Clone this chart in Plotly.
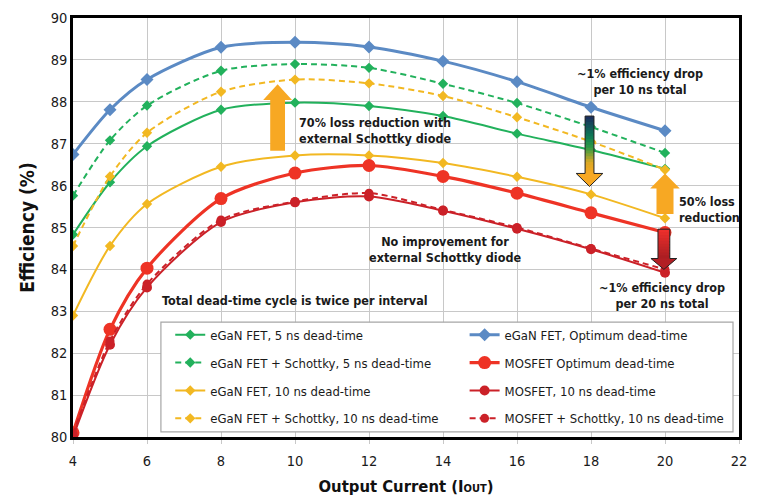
import plotly.graph_objects as go

# ---------------- data ----------------
x_current = [4, 5, 6, 8, 10, 12, 14, 16, 18, 20]
egan_5ns = [84.83, 86.08, 86.94, 87.81, 87.98, 87.90, 87.66, 87.24, 86.85, 86.40]
egan_schottky_5ns = [85.76, 87.08, 87.91, 88.74, 88.90, 88.81, 88.43, 87.97, 87.40, 86.78]
egan_10ns = [82.90, 84.56, 85.56, 86.45, 86.72, 86.72, 86.54, 86.21, 85.79, 85.22]
egan_schottky_10ns = [84.56, 86.22, 87.26, 88.24, 88.53, 88.44, 88.14, 87.63, 87.05, 86.38]
egan_opt = [86.74, 87.81, 88.53, 89.30, 89.42, 89.31, 88.97, 88.48, 87.87, 87.31]
mosfet_opt = [80.10, 82.57, 84.03, 85.69, 86.30, 86.48, 86.22, 85.82, 85.35, 84.88]
mosfet_10ns = [80.00, 82.20, 83.57, 85.13, 85.60, 85.74, 85.40, 84.97, 84.48, 83.92]
mosfet_schottky_10ns = [80.08, 82.29, 83.65, 85.18, 85.62, 85.82, 85.42, 85.00, 84.50, 84.00]

series_names = [
    "eGaN FET, 5 ns dead-time",
    "eGaN FET + Schottky, 5 ns dead-time",
    "eGaN FET, 10 ns dead-time",
    "eGaN FET + Schottky, 10 ns dead-time",
    "eGaN FET, Optimum dead-time",
    "MOSFET Optimum dead-time",
    "MOSFET, 10 ns dead-time",
    "MOSFET + Schottky, 10 ns dead-time",
]
x_ticks = [4, 6, 8, 10, 12, 14, 16, 18, 20, 22]
y_ticks = [80, 81, 82, 83, 84, 85, 86, 87, 88, 89, 90]

FONT = "DejaVu Sans Condensed, Liberation Sans Narrow, Roboto, sans-serif"
GREEN = "#22B15C"
YELLOW = "#F2B822"
BLUE = "#5B8AC4"
RED = "#EE3325"
DRED = "#CB2128"
ORANGE = "#F7A823"

fig = go.Figure()

styles = [
    (egan_5ns, GREEN, "solid", 2, "diamond", 8, "legend"),
    (egan_schottky_5ns, GREEN, "6px,4px", 2, "diamond", 8, "legend"),
    (egan_10ns, YELLOW, "solid", 2, "diamond", 8, "legend"),
    (egan_schottky_10ns, YELLOW, "6px,4px", 2, "diamond", 8, "legend"),
    (egan_opt, BLUE, "solid", 3, "diamond", 10, "legend2"),
    (mosfet_opt, RED, "solid", 3.2, "circle", 13, "legend2"),
    (mosfet_10ns, DRED, "solid", 2, "circle", 10, "legend2"),
    (mosfet_schottky_10ns, DRED, "6px,4px", 2, "circle", 9, "legend2"),
]

for i, (vals, col, dash, lw, sym, ms, lg) in enumerate(styles):
    fig.add_trace(go.Scatter(
        x=x_current, y=vals, name=series_names[i], mode="lines+markers",
        line=dict(color=col, width=lw, dash=dash, shape="spline", smoothing=0.8),
        marker=dict(color=col, symbol=sym, size=ms, line=dict(width=0)),
        legend=lg, legendgroup=f"g{i}",
    ))

# ------------- arrows (decorations) -------------
shapes = []

def up_arrow(cx, y0, yb, ytip, sw, hw, color):
    path = (f"M{cx-sw},{y0} L{cx-sw},{yb} L{cx-hw},{yb} L{cx},{ytip} "
            f"L{cx+hw},{yb} L{cx+sw},{yb} L{cx+sw},{y0} Z")
    shapes.append(dict(type="path", xref="x", yref="y", path=path, fillcolor=color,
                       line=dict(width=0), layer="above"))

def hex2rgb(h):
    h = h.lstrip("#")
    return tuple(int(h[i:i + 2], 16) for i in (0, 2, 4))

def grad_color(stops, t):
    for (t0, c0), (t1, c1) in zip(stops[:-1], stops[1:]):
        if t0 <= t <= t1:
            f = (t - t0) / (t1 - t0) if t1 > t0 else 0
            a, b = hex2rgb(c0), hex2rgb(c1)
            return "rgb(%d,%d,%d)" % tuple(round(a[k] + (b[k] - a[k]) * f) for k in range(3))
    return stops[-1][1]

def grad_down_arrow(cx, ytop, yb, ytip, sw, hw, stops, headcolor, n=20):
    step = (ytop - yb) / n
    for k in range(n):
        ya = ytop - step * k
        yb2 = ytop - step * (k + 1)
        c = grad_color(stops, (k + 0.5) / n)
        shapes.append(dict(type="rect", xref="x", yref="y", x0=cx - sw, x1=cx + sw,
                           y0=yb2 - step * 0.6, y1=ya, fillcolor=c, line=dict(width=0),
                           layer="above"))
    shapes.append(dict(type="path", xref="x", yref="y",
                       path=f"M{cx-hw},{yb} L{cx},{ytip} L{cx+hw},{yb} Z",
                       fillcolor=headcolor, line=dict(width=0), layer="above"))
    path = (f"M{cx-sw},{ytop} L{cx-sw},{yb} L{cx-hw},{yb} L{cx},{ytip} "
            f"L{cx+hw},{yb} L{cx+sw},{yb} L{cx+sw},{ytop} Z")
    shapes.append(dict(type="path", xref="x", yref="y", path=path,
                       line=dict(width=1, color="#222222"), layer="above"))

# 70% loss reduction arrow
up_arrow(9.53, 86.83, 88.04, 88.42, 0.2, 0.39, ORANGE)
# 50% loss reduction arrow
up_arrow(20.0, 85.32, 85.93, 86.29, 0.23, 0.40, ORANGE)
# ~1% per 10 ns gradient arrow
grad_down_arrow(17.96, 87.66, 86.29, 85.98, 0.12, 0.36,
                [(0, "#1C2A5E"), (0.35, "#0E7A55"), (0.55, "#2E9A45"),
                 (0.8, "#D9A825"), (1, "#F7A823")], "#F7A823")
# ~1% per 20 ns red gradient arrow
grad_down_arrow(19.97, 84.96, 84.26, 84.0, 0.16, 0.35,
                [(0, "#F0302C"), (1, "#A81D22")], "#B21F24", n=10)

# legend box
shapes.append(dict(type="rect", xref="paper", yref="paper", x0=0.132, x1=0.991,
                   y0=0.012, y1=0.274, fillcolor="white",
                   line=dict(color="#A6A6A6", width=1.2), layer="above"))

fig.update_layout(shapes=shapes)

# ------------- text annotations -------------
tfont = dict(family=FONT, size=12.5, color="#1A1A1A", weight="bold")
ann = [
    dict(x=10.05, y=87.32, xanchor="left", align="left",
         text="70% loss reduction with<br>external Schottky diode"),
    dict(x=19.32, y=88.49, xanchor="center", align="center",
         text="~1% efficiency drop<br>per 10 ns total"),
    dict(x=20.33, y=85.44, xanchor="left", align="left",
         text="50% loss<br>reduction"),
    dict(x=14.05, y=84.47, xanchor="center", align="center",
         text="No improvement for<br>external Schottky diode"),
    dict(x=19.92, y=83.38, xanchor="center", align="center",
         text="~1% efficiency drop<br>per 20 ns total"),
    dict(x=10.0, y=83.25, xanchor="center", align="center",
         text="Total dead-time cycle is twice per interval"),
]
for a in ann:
    fig.add_annotation(xref="x", yref="y", showarrow=False, yanchor="middle",
                       font=tfont, **a)

legend_common = dict(
    bgcolor="rgba(0,0,0,0)", borderwidth=0,
    font=dict(family=FONT, size=13, color="#1A1A1A"),
    yanchor="top", xanchor="left", tracegroupgap=8,
    itemwidth=30, orientation="v",
)

# the page places the figure 8px in from the top-left corner, so the figure is
# sized 8px smaller and the margins are trimmed to keep the plot area in place
fig.update_layout(
    width=750, height=488,
    margin=dict(l=65, r=19, t=10, b=59, autoexpand=False),
    paper_bgcolor="white", plot_bgcolor="white",
    font=dict(family=FONT, color="#1A1A1A"),
    showlegend=True,
    legend=dict(x=0.146, y=0.280, **legend_common),
    legend2=dict(x=0.588, y=0.280, **legend_common),
    xaxis=dict(
        range=[4, 22], tickvals=x_ticks, showgrid=True, gridcolor="#C8C8C8",
        gridwidth=1.3, showline=True, linecolor="black", linewidth=2.5, mirror=True,
        ticks="outside", ticklen=4, tickcolor="#C8C8C8", ticklabelstandoff=5,
        tickfont=dict(family=FONT, size=14.5, color="#1A1A1A"),
        title=dict(text="<b>Output Current (I<span style='font-size:11px'>OUT</span>)</b>",
                   font=dict(family=FONT, size=16.5, color="#111111"), standoff=14),
        zeroline=False,
    ),
    yaxis=dict(
        range=[80, 90], tickvals=y_ticks, showgrid=True, gridcolor="#C8C8C8",
        gridwidth=1.3, showline=True, linecolor="black", linewidth=2.5, mirror=True,
        ticks="", ticklen=0, ticklabeloverflow="allow",
        tickfont=dict(family=FONT, size=14.5, color="#1A1A1A"),
        title=dict(text="<b>Efficiency (%)</b>",
                   font=dict(family=FONT, size=19, color="#111111"), standoff=12),
        zeroline=False,
    ),
)

fig.write_html("out.html")
